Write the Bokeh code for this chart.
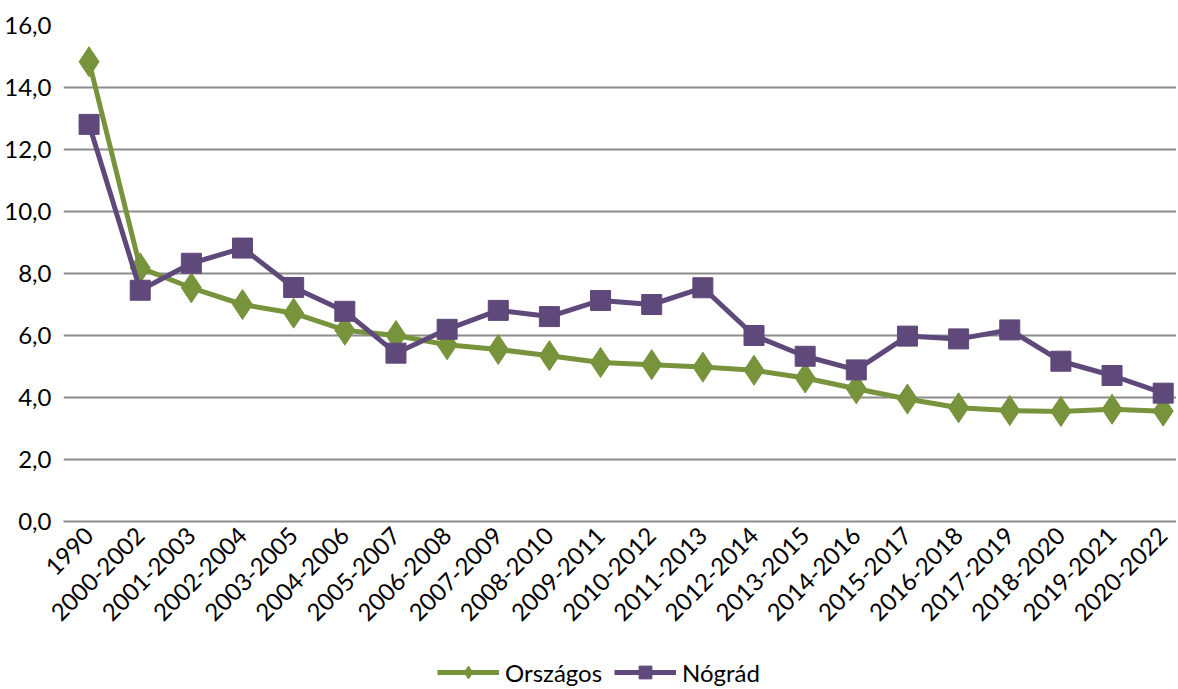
import math
from bokeh.plotting import figure
from bokeh.layouts import column
from bokeh.models import Range1d, FixedTicker, Legend, LegendItem, CustomJSTickFormatter
from bokeh.embed import file_html
from bokeh.resources import INLINE

categories = ["1990", "2000-2002", "2001-2003", "2002-2004", "2003-2005", "2004-2006",
              "2005-2007", "2006-2008", "2007-2009", "2008-2010", "2009-2011", "2010-2012",
              "2011-2013", "2012-2014", "2013-2015", "2014-2016", "2015-2017", "2016-2018",
              "2017-2019", "2018-2020", "2019-2021", "2020-2022"]
orszagos = [14.83, 8.18, 7.54, 7.0, 6.72, 6.17, 6.0, 5.70, 5.55, 5.35, 5.13, 5.06,
            4.98, 4.88, 4.63, 4.28, 3.95, 3.67, 3.58, 3.55, 3.62, 3.56]
nograd = [12.81, 7.46, 8.33, 8.82, 7.55, 6.78, 5.43, 6.20, 6.81, 6.61, 7.13, 7.0,
          7.54, 6.0, 5.33, 4.89, 5.98, 5.89, 6.18, 5.17, 4.71, 4.14]
y_ticks = [0, 2, 4, 6, 8, 10, 12, 14, 16]
series_names = ["Országos", "Nógrád"]

GREEN = "#77933C"
PURPLE = "#5F497A"
FONT = "Lato"
FS = "24px"

xs = list(range(len(categories)))

p = figure(width=1176, height=641, output_backend="svg", toolbar_location=None,
           x_range=Range1d(-0.5, 21.26), y_range=Range1d(0, 16),
           min_border_left=63, min_border_right=0, min_border_top=25, min_border_bottom=120)
p.outline_line_color = None
p.background_fill_color = "white"

p.xgrid.grid_line_color = None
p.ygrid.grid_line_color = "#8C8C8C"
p.ygrid.grid_line_width = 2
p.yaxis.ticker = FixedTicker(ticks=y_ticks)
p.yaxis.formatter = CustomJSTickFormatter(code="return tick.toFixed(1).replace('.', ',');")
p.yaxis.axis_line_color = None
p.yaxis.major_tick_line_color = None
p.yaxis.minor_tick_line_color = None
p.yaxis.major_label_text_font = FONT
p.yaxis.major_label_text_font_size = FS
p.yaxis.major_label_text_color = "#000000"
p.yaxis.major_label_standoff = 6

p.xaxis.ticker = FixedTicker(ticks=xs)
p.xaxis.major_label_overrides = {i: c for i, c in enumerate(categories)}
p.xaxis.major_label_orientation = math.pi / 4
p.xaxis.axis_line_color = "#8C8C8C"
p.xaxis.axis_line_width = 2
p.xaxis.major_tick_line_color = None
p.xaxis.minor_tick_line_color = None
p.xaxis.major_label_text_font = FONT
p.xaxis.major_label_text_font_size = FS
p.xaxis.major_label_text_color = "#000000"
p.xaxis.major_label_standoff = 4

p.line(xs, orszagos, line_color=GREEN, line_width=5)
p.scatter(xs, orszagos, marker="diamond", size=30, fill_color=GREEN, line_color=GREEN)
p.line(xs, nograd, line_color=PURPLE, line_width=5)
p.scatter(xs, nograd, marker="square", size=20, fill_color=PURPLE, line_color=PURPLE)

# legend strip below the chart (its renderers use the same data, but fall outside its view)
lg = figure(width=1176, height=47, output_backend="svg", toolbar_location=None,
            x_range=Range1d(-100, -99), y_range=Range1d(-100, -99),
            min_border_left=0, min_border_right=0, min_border_top=0, min_border_bottom=0)
lg.axis.visible = False
lg.grid.visible = False
lg.outline_line_color = None
e1 = lg.line(xs, orszagos, line_color=GREEN, line_width=5)
s1 = lg.scatter(xs, orszagos, marker="diamond", size=30, fill_color=GREEN, line_color=GREEN)
e2 = lg.line(xs, nograd, line_color=PURPLE, line_width=5)
s2 = lg.scatter(xs, nograd, marker="square", size=20, fill_color=PURPLE, line_color=PURPLE)

legend = Legend(items=[LegendItem(label=series_names[0], renderers=[e1, s1]),
                       LegendItem(label=series_names[1], renderers=[e2, s2])],
                orientation="horizontal", location=(374, 0))
legend.label_text_font = FONT
legend.label_text_font_size = FS
legend.label_text_color = "#000000"
legend.glyph_width = 62
legend.glyph_height = 32
legend.label_height = 28
legend.spacing = 12
legend.label_standoff = 6
legend.border_line_color = None
legend.background_fill_alpha = 0
legend.margin = 0
legend.padding = 0
lg.add_layout(legend, "center")

layout = column(p, lg, spacing=0)
open("out.html", "w").write(file_html(layout, INLINE))
